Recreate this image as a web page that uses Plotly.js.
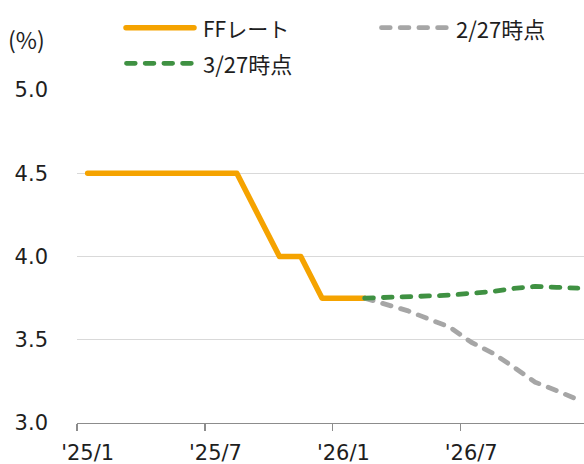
<!DOCTYPE html>
<html>
<head>
<meta charset="utf-8">
<script src="https://cdn.plot.ly/plotly-3.0.1.min.js"></script>
<style>
  html, body { margin: 0; padding: 0; background: #fff; }
  #chart { width: 584px; height: 464px; }
  .scatterlayer .js-line { stroke-linecap: round; stroke-linejoin: round; }
  .shapelayer path { stroke-linecap: round; }
</style>
</head>
<body>
<div id="chart"></div>
<script>
// Months (category axis), Jan 2025 - Dec 2026
const months = ["'25/1","'25/2","'25/3","'25/4","'25/5","'25/6","'25/7","'25/8","'25/9","'25/10","'25/11","'25/12",
                "'26/1","'26/2","'26/3","'26/4","'26/5","'26/6","'26/7","'26/8","'26/9","'26/10","'26/11","'26/12"];
// Tick labels shown on the axis
const tickLabels = ["'25/1","'25/7","'26/1","'26/7"];
// Series names
const seriesNames = ["FFレート", "2/27時点", "3/27時点"];
// FF rate (upper bound, %), Jan 2025 - Feb 2026
const ffRate = [4.50,4.50,4.50,4.50,4.50,4.50,4.50,4.50,4.25,4.00,4.00,3.75,3.75,3.75];
// Market-implied path as of 2/27, Feb 2026 - Dec 2026
const asOf0227 = [3.75,3.71,3.675,3.625,3.575,3.485,3.42,3.335,3.245,3.195,3.14];
// Market-implied path as of 3/27, Feb 2026 - Dec 2026
const asOf0327 = [3.75,3.752,3.757,3.763,3.768,3.776,3.79,3.808,3.82,3.815,3.81];
// Y ticks
const yTicks = [3.0, 3.5, 4.0, 4.5, 5.0];

const ffMonths = months.slice(0, ffRate.length);
const fcMonths = months.slice(months.length - asOf0227.length);

const tickFont = {family: "DejaVu Sans, Verdana, sans-serif", size: 21, color: "#1e1e1e"};
const legFont = {family: "Noto Sans CJK JP, sans-serif", size: 21, color: "#1e1e1e"};

const cOrange = "#F5A300", cGray = "#A6A6A6", cGreen = "#3F9142";

const traces = [
  {x: ffMonths, y: ffRate, name: seriesNames[0], type: "scatter", mode: "lines",
   line: {color: cOrange, width: 5.5}, hoverinfo: "skip"},
  {x: fcMonths, y: asOf0227, name: seriesNames[1], type: "scatter", mode: "lines",
   line: {color: cGray, width: 4.8, dash: "8.7px,10px"}, hoverinfo: "skip"},
  {x: fcMonths, y: asOf0327, name: seriesNames[2], type: "scatter", mode: "lines",
   line: {color: cGreen, width: 4.8, dash: "8.7px,10px"}, hoverinfo: "skip"},
  {x: [], y: [], xaxis: "x2", yaxis: "y", type: "scatter", mode: "lines", showlegend: false, hoverinfo: "skip"}
];

const L = 77, T = 90, W = 584, H = 464, B = 41;
const pw = W - L, ph = H - T - B;
const px = v => (v - L) / pw;
const py = v => (H - B - v) / ph;

const layout = {
  width: W, height: H,
  margin: {l: L, r: 0, t: T, b: B, pad: 0},
  paper_bgcolor: "#fff", plot_bgcolor: "#fff",
  showlegend: false,
  xaxis: {
    type: "category", range: [-0.5, 23.29], fixedrange: true,
    tickmode: "array", tickvals: tickLabels, ticktext: tickLabels,
    ticks: "", showgrid: false, zeroline: false,
    showline: true, linecolor: "#8c8c8c", linewidth: 1.3,
    tickfont: tickFont, ticklabelstandoff: 10
  },
  xaxis2: {
    overlaying: "x", anchor: "y", side: "bottom", type: "linear",
    range: [-0.5, 23.29], fixedrange: true,
    tickmode: "array", tickvals: [-0.5, 5.5, 11.5, 17.5],
    ticks: "outside", ticklen: 7, tickwidth: 1.3, tickcolor: "#8c8c8c",
    showticklabels: false, showgrid: false, zeroline: false, showline: false
  },
  yaxis: {
    range: [3, 5], fixedrange: true,
    tickmode: "array", tickvals: yTicks, tickformat: ".1f",
    ticks: "", showline: false, zeroline: false,
    showgrid: true, gridcolor: "#d9d9d9", gridwidth: 1.3,
    tickfont: tickFont, ticklabelstandoff: 28
  },
  shapes: [
    {type: "line", xref: "paper", yref: "paper", x0: px(126), x1: px(194), y0: py(27.7), y1: py(27.7),
     line: {color: cOrange, width: 5.5}},
    {type: "line", xref: "paper", yref: "paper", x0: px(381.5), x1: px(447.5), y0: py(27.7), y1: py(27.7),
     line: {color: cGray, width: 4.8, dash: "8.7px,10px"}},
    {type: "line", xref: "paper", yref: "paper", x0: px(126.5), x1: px(192.5), y0: py(63.3), y1: py(63.3),
     line: {color: cGreen, width: 4.8, dash: "8.7px,10px"}}
  ],
  annotations: [
    {text: seriesNames[0], xref: "paper", yref: "paper", x: px(201), y: py(27.7), xanchor: "left", yanchor: "middle",
     showarrow: false, font: legFont},
    {text: seriesNames[1], xref: "paper", yref: "paper", x: px(454), y: py(27.7), xanchor: "left", yanchor: "middle",
     showarrow: false, font: Object.assign({}, legFont, {size: 22})},
    {text: seriesNames[2], xref: "paper", yref: "paper", x: px(201), y: py(63.3), xanchor: "left", yanchor: "middle",
     showarrow: false, font: Object.assign({}, legFont, {size: 22})},
    {text: "(%)", xref: "paper", yref: "paper", x: px(6), y: py(38.5), xanchor: "left", yanchor: "middle",
     showarrow: false, font: {family: "Noto Sans CJK JP, sans-serif", size: 23, color: "#1e1e1e"}}
  ]
};

Plotly.newPlot("chart", traces, layout, {displayModeBar: false, staticPlot: true});
</script>
</body>
</html>
